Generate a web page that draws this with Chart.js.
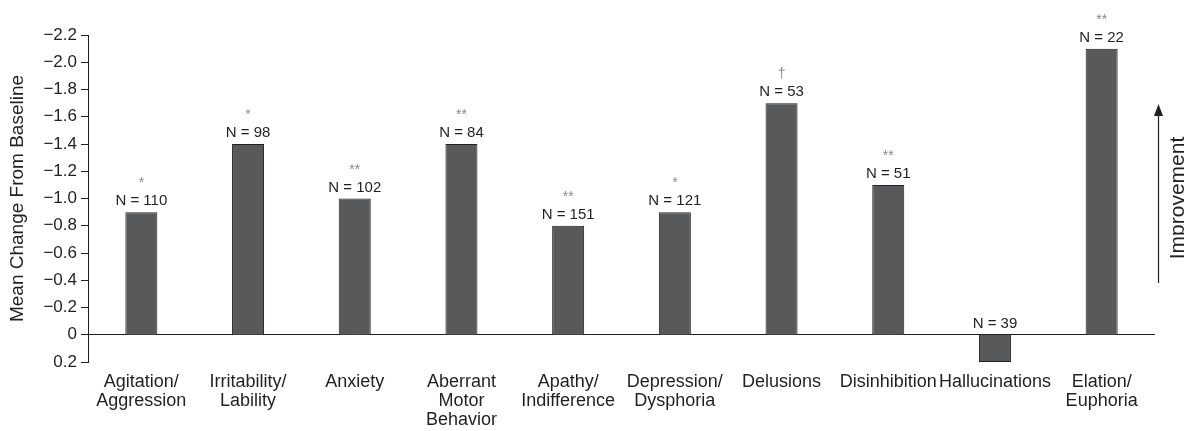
<!DOCTYPE html>
<html>
<head>
<meta charset="utf-8">
<script src="https://cdn.jsdelivr.net/npm/chart.js@4.4.1/dist/chart.umd.min.js"></script>
<style>
  body { margin: 0; background: #fff; }
  canvas { display: block; }
</style>
</head>
<body>
<canvas id="npiChart" width="1184" height="431"></canvas>
<script>
// values
const categories = [
  ['Agitation/', 'Aggression'],
  ['Irritability/', 'Lability'],
  ['Anxiety'],
  ['Aberrant', 'Motor', 'Behavior'],
  ['Apathy/', 'Indifference'],
  ['Depression/', 'Dysphoria'],
  ['Delusions'],
  ['Disinhibition'],
  ['Hallucinations'],
  ['Elation/', 'Euphoria']
];
const meanChange = [-0.9, -1.4, -1.0, -1.4, -0.8, -0.9, -1.7, -1.1, 0.2, -2.1];
const sampleSizes = [110, 98, 102, 84, 151, 121, 53, 51, 39, 22];
const significance = ['*', '*', '**', '**', '**', '*', '\u2020', '**', '', '**'];
const yMin = -2.2;
const yMax = 0.2;
const yStep = 0.2;

const FONT = '"Liberation Sans", Arial, Helvetica, sans-serif';
const INK = '#231f20';

function fmtTick(v) {
  if (Math.abs(v) < 1e-9) return '0';
  return (v < 0 ? '\u2212' : '') + Math.abs(v).toFixed(1);
}

// N labels, significance marks and the "Improvement" arrow
const annotations = {
  id: 'annotations',
  afterDatasetsDraw(chart) {
    const ctx = chart.ctx;
    const bars = chart.getDatasetMeta(0).data;
    ctx.save();
    ctx.textAlign = 'center';
    bars.forEach((bar, i) => {
      const top = Math.min(bar.y, bar.base);
      ctx.fillStyle = INK;
      ctx.font = '15px ' + FONT;
      ctx.textBaseline = 'middle';
      ctx.fillText('N = ' + sampleSizes[i], bar.x, top - 11);
      if (significance[i]) {
        ctx.fillStyle = '#8a8a8a';
        ctx.font = '14px ' + FONT;
        ctx.textBaseline = 'alphabetic';
        ctx.fillText(significance[i], bar.x, top - 25);
      }
    });

    // arrow
    const ax = 1158.5;
    ctx.strokeStyle = INK;
    ctx.fillStyle = INK;
    ctx.lineWidth = 1.2;
    ctx.beginPath();
    ctx.moveTo(ax, 283);
    ctx.lineTo(ax, 114);
    ctx.stroke();
    ctx.beginPath();
    ctx.moveTo(ax, 104);
    ctx.lineTo(ax - 4.5, 116);
    ctx.lineTo(ax + 4.5, 116);
    ctx.closePath();
    ctx.fill();

    ctx.translate(1178, 198);
    ctx.rotate(-Math.PI / 2);
    ctx.font = '21px ' + FONT;
    ctx.textBaseline = 'middle';
    ctx.fillText('Improvement', 0, 0);
    ctx.restore();
  }
};

new Chart(document.getElementById('npiChart'), {
  type: 'bar',
  data: {
    labels: categories,
    datasets: [{
      data: meanChange,
      backgroundColor: '#58595b',
      borderColor: INK,
      borderWidth: 1,
      barPercentage: 0.3,
      categoryPercentage: 1.0
    }]
  },
  options: {
    responsive: false,
    animation: false,
    layout: { padding: { top: 35, right: 29, bottom: 0, left: 0 } },
    plugins: {
      legend: { display: false },
      tooltip: { enabled: false }
    },
    scales: {
      x: {
        grid: { display: false, drawTicks: false },
        border: { display: false },
        ticks: {
          color: INK,
          font: { family: FONT, size: 18, lineHeight: 1.06 },
          padding: 10,
          maxRotation: 0,
          autoSkip: false
        },
        afterFit(scale) { scale.height = 69; }
      },
      y: {
        reverse: true,
        min: yMin,
        max: yMax,
        border: { display: true, color: INK, width: 1 },
        grid: {
          drawOnChartArea: true,
          color: (c) => (c.tick && Math.abs(c.tick.value) < 1e-9) ? INK : 'rgba(0,0,0,0)',
          tickColor: INK,
          tickLength: 7,
          lineWidth: 1
        },
        ticks: {
          stepSize: yStep,
          color: INK,
          font: { family: FONT, size: 17 },
          padding: 4,
          callback: (v) => fmtTick(v)
        },
        title: {
          display: true,
          text: 'Mean Change From Baseline',
          color: INK,
          font: { family: FONT, size: 19 },
          padding: { top: 6, bottom: 0 }
        },
        afterFit(scale) { scale.width = 88; }
      }
    }
  },
  plugins: [annotations]
});
</script>
</body>
</html>
